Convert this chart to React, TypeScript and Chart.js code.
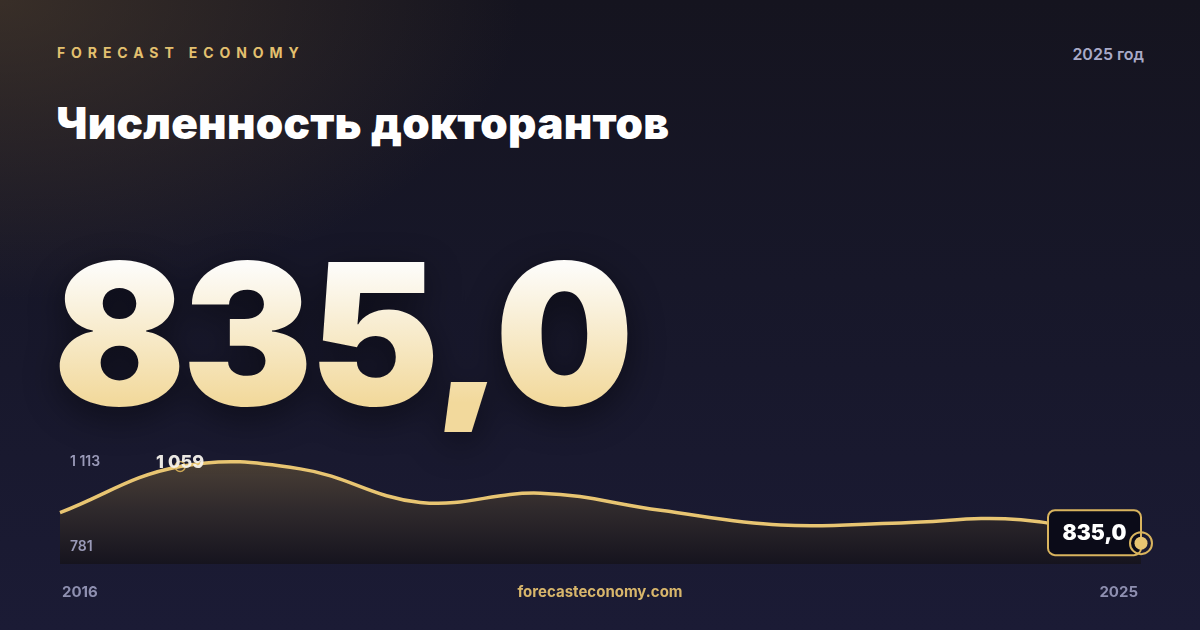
import { useEffect, useRef } from "react";
import { Chart, registerables } from "chart.js";

Chart.register(...registerables);

// данные: численность докторантов по годам
const years = ["2016", "2017", "2018", "2019", "2020", "2021", "2022", "2023", "2024", "2025"];
const doctoralStudents = [924, 1059, 1052, 954, 981, 931, 888, 894, 903, 835];
const rangeLabels = ["1 113", "781"];
const peakLabel = "1 059";
const lastLabel = "835,0";

const GOLD = "#e8c572";
const FONT = "Inter, 'Noto Sans', sans-serif";

const overlayPlugin = {
  id: "overlay",
  afterDatasetsDraw(chart: any) {
    const { ctx, chartArea, scales } = chart;
    const x = scales.x;
    const y = scales.y;
    const n = doctoralStudents.length;

    ctx.save();
    // границы шкалы
    ctx.font = `600 14px ${FONT}`;
    ctx.fillStyle = "#9a9ab8";
    ctx.textAlign = "left";
    ctx.textBaseline = "middle";
    ctx.fillText(rangeLabels[0], chartArea.left + 10, chartArea.top + 14);
    ctx.fillText(rangeLabels[1], chartArea.left + 10, chartArea.bottom - 17);

    // годы под графиком
    ctx.font = `700 15px ${FONT}`;
    ctx.fillStyle = "#8e8fb0";
    ctx.textBaseline = "middle";
    ctx.fillText(years[0], x.getPixelForValue(0) + 2, 592);
    ctx.textAlign = "right";
    ctx.fillText(years[n - 1], x.getPixelForValue(n - 1) - 3, 592);

    // максимум
    const peakIdx = doctoralStudents.indexOf(Math.max(...doctoralStudents));
    const px = x.getPixelForValue(peakIdx);
    const py = y.getPixelForValue(doctoralStudents[peakIdx]);
    ctx.strokeStyle = "rgba(220,180,90,0.9)";
    ctx.lineWidth = 1.5;
    ctx.beginPath();
    ctx.arc(px, py, 5, 0, Math.PI * 2);
    ctx.stroke();
    ctx.font = `800 18px ${FONT}`;
    ctx.fillStyle = "rgba(245,242,236,0.95)";
    ctx.textAlign = "center";
    ctx.textBaseline = "middle";
    ctx.fillText(peakLabel, px, py - 4);

    // последнее значение
    const lx = x.getPixelForValue(n - 1);
    const ly = y.getPixelForValue(doctoralStudents[n - 1]);
    const bw = 93;
    const bh = 45;
    const bx = lx - bw;
    const by = ly - 33;
    ctx.beginPath();
    ctx.roundRect(bx, by, bw, bh, 7);
    ctx.fillStyle = "#0b0b18";
    ctx.fill();
    ctx.lineWidth = 2;
    ctx.strokeStyle = "#d9b45e";
    ctx.stroke();
    ctx.font = `900 21px ${FONT}`;
    ctx.fillStyle = "#ffffff";
    ctx.textAlign = "center";
    ctx.fillText(lastLabel, bx + bw / 2, by + bh / 2 + 1);

    ctx.beginPath();
    ctx.arc(lx, ly, 11, 0, Math.PI * 2);
    ctx.lineWidth = 2;
    ctx.strokeStyle = "#d9b45e";
    ctx.stroke();
    ctx.beginPath();
    ctx.arc(lx, ly, 6.5, 0, Math.PI * 2);
    ctx.fillStyle = GOLD;
    ctx.fill();
    ctx.restore();
  },
};

const LineCard = () => {
  const chartRef = useRef<HTMLCanvasElement>(null);
  const chartInstance = useRef<Chart | null>(null);

  useEffect(() => {
    if (!chartRef.current) return;
    const ctx = chartRef.current.getContext("2d");
    if (!ctx) return;

    chartInstance.current = new Chart(ctx, {
      type: "line",
      data: {
        labels: years,
        datasets: [
          {
            data: doctoralStudents,
            borderColor: GOLD,
            borderWidth: 3.5,
            tension: 0.4,
            pointRadius: 0,
            fill: "start",
            backgroundColor: (c: any) => {
              const area = c.chart.chartArea;
              if (!area) return "rgba(0,0,0,0)";
              const g = c.chart.ctx.createLinearGradient(0, area.top + 10, 0, area.bottom);
              g.addColorStop(0, "rgba(78,66,54,0.97)");
              g.addColorStop(0.5, "rgba(48,42,44,0.95)");
              g.addColorStop(1, "rgba(22,20,30,0.95)");
              return g;
            },
          },
        ],
      },
      options: {
        responsive: false,
        animation: false,
        layout: { padding: { left: 60, right: 59, top: 448, bottom: 66 } },
        plugins: { legend: { display: false }, tooltip: { enabled: false } },
        scales: {
          x: { display: false },
          y: { display: false, min: 774, max: 1113 },
        },
      },
      plugins: [overlayPlugin],
    } as any);

    return () => {
      if (chartInstance.current) {
        chartInstance.current.destroy();
        chartInstance.current = null;
      }
    };
  }, []);

  return (
    <canvas
      ref={chartRef}
      width={1200}
      height={630}
      style={{ position: "absolute", left: 0, top: 0, width: 1200, height: 630 }}
    />
  );
};

export default function App() {
  useEffect(() => {
    document.body.style.margin = "0";
  }, []);

  return (
    <div
      style={{
        position: "absolute",
        left: 0,
        top: 0,
        width: 1200,
        height: 630,
        overflow: "hidden",
        fontFamily: FONT,
        background:
          "radial-gradient(ellipse 520px 300px at 0% 0%, rgba(80,64,46,0.6), rgba(80,64,46,0) 100%), linear-gradient(180deg, #15141f 0%, #171729 45%, #1b1b35 100%)",
      }}
    >
      <div
        style={{
          position: "absolute",
          left: 57,
          top: 46,
          fontSize: 14,
          fontWeight: 700,
          letterSpacing: 5.9,
          lineHeight: 1,
          color: "#e3c06f",
        }}
      >
        FORECAST ECONOMY
      </div>
      <div
        style={{
          position: "absolute",
          right: 56,
          top: 46,
          fontSize: 16,
          fontWeight: 600,
          lineHeight: 1,
          color: "#a9aac8",
        }}
      >
        2025 год
      </div>
      <div
        style={{
          position: "absolute",
          left: 56,
          top: 101,
          fontSize: 44,
          fontWeight: 900,
          lineHeight: 1,
          letterSpacing: 0.25,
          color: "#ffffff",
          whiteSpace: "nowrap",
        }}
      >
        Численность докторантов
      </div>
      <div
        style={{
          position: "absolute",
          left: 53,
          top: 236,
          fontSize: 196,
          fontWeight: 900,
          lineHeight: 1,
          letterSpacing: -4,
          whiteSpace: "nowrap",
          background: "linear-gradient(180deg, #fdfcf9 15%, #f2d99c 85%)",
          WebkitBackgroundClip: "text",
          backgroundClip: "text",
          color: "transparent",
          filter: "drop-shadow(0 10px 18px rgba(0,0,0,0.45))",
        }}
      >
        835,0
      </div>
      <LineCard />
      <div
        style={{
          position: "absolute",
          left: 0,
          width: 1200,
          top: 584,
          textAlign: "center",
          fontSize: 15,
          fontWeight: 700,
          lineHeight: 1,
          color: "#d8b66b",
        }}
      >
        forecasteconomy.com
      </div>
    </div>
  );
}
